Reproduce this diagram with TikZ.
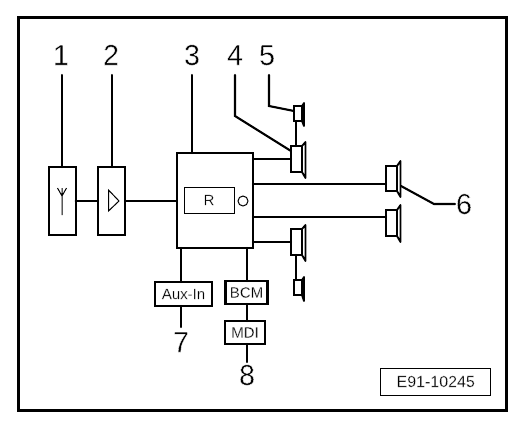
\documentclass[tikz,border=0pt]{standalone}
\usepackage{fontspec}
\setmainfont{Liberation Sans}
\usetikzlibrary{calc}
\newcommand{\lite}[2][0.4]{\special{pdf:code q 2 Tr #1 w 1 1 1 RG}#2\special{pdf:code Q}}
\tikzset{
  heavy/.style={line width=2.1pt,line cap=round,line join=miter},
  fine/.style={line width=1pt},
  block/.style={draw,heavy,rectangle,inner sep=0pt,outer sep=0pt,fill=white},
  thinblock/.style={draw,fine,rectangle,inner sep=0pt,outer sep=0pt,fill=white},
  num/.style={font=\fontsize{29}{29}\selectfont,inner sep=0pt,outer sep=0pt,text height=20pt,text depth=0pt},
  small/.style={font=\fontsize{15}{15}\selectfont},
}
\newcommand{\spk}[8]{% name cx cy w h flare-dx flare-top flare-bottom
  \node[block,minimum width=#4pt,minimum height=#5pt] (#1) at (#2,#3) {};
  \draw[heavy,line width=1.8pt,line join=round] (#1.north east) -- ++(#6,-#7) -- ($(#1.south east)+(#6,#8)$) -- (#1.south east);
}
\begin{document}
\begin{tikzpicture}[x=1pt,y=-1pt]
\useasboundingbox (0,0) rectangle (523,429);
\fill[white] (0,0) rectangle (523,429);
\node[draw,line width=2.6pt,inner sep=0pt,outer sep=0pt,minimum width=488pt,minimum height=393pt] (frame) at (262.5,214) {};

% labels
\node[num] (n1) at (61,55) {\lite{1}};
\node[num] (n2) at (111,55) {\lite{2}};
\node[num] (n3) at (192,55) {\lite{3}};
\node[num] (n4) at (235,55) {\lite{4}};
\node[num] (n5) at (267,55) {\lite{5}};
\node[num] (n6) at (464,204) {\lite{6}};
\node[num] (n7) at (181,342) {\lite{7}};
\node[num] (n8) at (247,375) {\lite{8}};

% main blocks
\node[block,minimum width=26.5pt,minimum height=68pt] (b1) at (62.3,201) {};
\node[block,minimum width=27pt,minimum height=68pt] (b2) at (111.5,201) {};
\node[block,minimum width=76pt,minimum height=95pt] (b3) at (214.8,200.5) {};
\node[thinblock,minimum width=50pt,minimum height=26pt,small] (r) at (209,200) {\lite[0.15]{R}};
\node[draw,fine,circle,inner sep=0pt,outer sep=0pt,minimum size=10pt] (o) at (243,201) {};
\node[block,minimum width=57pt,minimum height=23.5pt,small] (aux) at (183.5,294) {\lite[0.15]{Aux-In}};
\node[block,minimum width=42pt,minimum height=23pt,small] (bcm) at (246.5,292.5) {\lite[0.15]{BCM}};
\node[block,minimum width=40pt,minimum height=23pt,small] (mdi) at (245,332.5) {\lite[0.15]{MDI}};

% aerial and amplifier symbols
\coordinate (aerialtop) at (62,215);
\coordinate (aerialfork) at (62,196);
\draw[fine] (aerialtop) -- (aerialfork) -- (57.5,188) (aerialfork) -- (66.5,188) (aerialfork) -- (62,188);
\draw[fine,line join=miter] (108.5,190) -- (119,201) -- (108.5,211) -- cycle;

% speakers
\spk{sa}{298}{113.5}{8}{15}{2}{3}{5}
\spk{sb}{296.5}{159}{11}{26}{3.5}{4}{6}
\spk{sc}{391.5}{178.5}{11}{25}{3.5}{5}{6}
\spk{sd}{391.5}{223}{11}{26}{3.5}{5}{6}
\spk{se}{296.5}{242}{11}{26}{3.5}{4}{6}
\spk{sf}{298}{287.5}{8}{15}{2}{3}{6}

% leader ends
\coordinate (l1) at (62,75);
\coordinate (l2) at (112,75);
\coordinate (l3) at (192,75);
\coordinate (l4a) at (235,75);
\coordinate (l4b) at (235,116);
\coordinate (l5a) at (269,75);
\coordinate (l5b) at (269,106);
\coordinate (l6a) at (401,186);
\coordinate (l6b) at (434,204);
\coordinate (l6c) at (455,204);
\coordinate (sb4) at (291,151);
\coordinate (sa5) at (294,111);
\coordinate (pc) at (253,184);
\coordinate (pd) at (253,217);
\coordinate (q7) at (181,327);
\coordinate (q8) at (247,362);

\draw[heavy] (l1) -- (l1 |- b1.north);
\draw[heavy] (l2) -- (l2 |- b2.north);
\draw[heavy] (l3) -- (l3 |- b3.north);
\draw[heavy] (l4a) -- (l4b) -- (sb4);
\draw[heavy] (l5a) -- (l5b) -- (sa5);
\draw[heavy] (l6a) -- (l6b) -- (l6c);

\draw[heavy] (b1.east) -- (b2.west);
\draw[heavy] (b2.east) -- (b3.west |- b2.east);
\draw[heavy] (sb.west) -- (sb.west -| b3.east);
\draw[heavy] (se.west) -- (se.west -| b3.east);
\draw[heavy] (pc) -- (pc -| sc.west);
\draw[heavy] (pd) -- (pd -| sd.west);
\draw[heavy] (296,121) -- (296,146);
\draw[heavy] (296,255) -- (296,280);
\draw[heavy] (181,248) -- (181,282);
\draw[heavy] (247,248) -- (247,281);
\draw[heavy] (181,306) -- (q7);
\draw[heavy] (247,304) -- (247,321);
\draw[heavy] (247,344) -- (q8);

% drawing number
\node[thinblock,minimum width=110pt,minimum height=27pt,font=\fontsize{16}{16}\selectfont] (id) at (435.7,381.5) {\lite[0.15]{E91-10245}};
\end{tikzpicture}
\end{document}
